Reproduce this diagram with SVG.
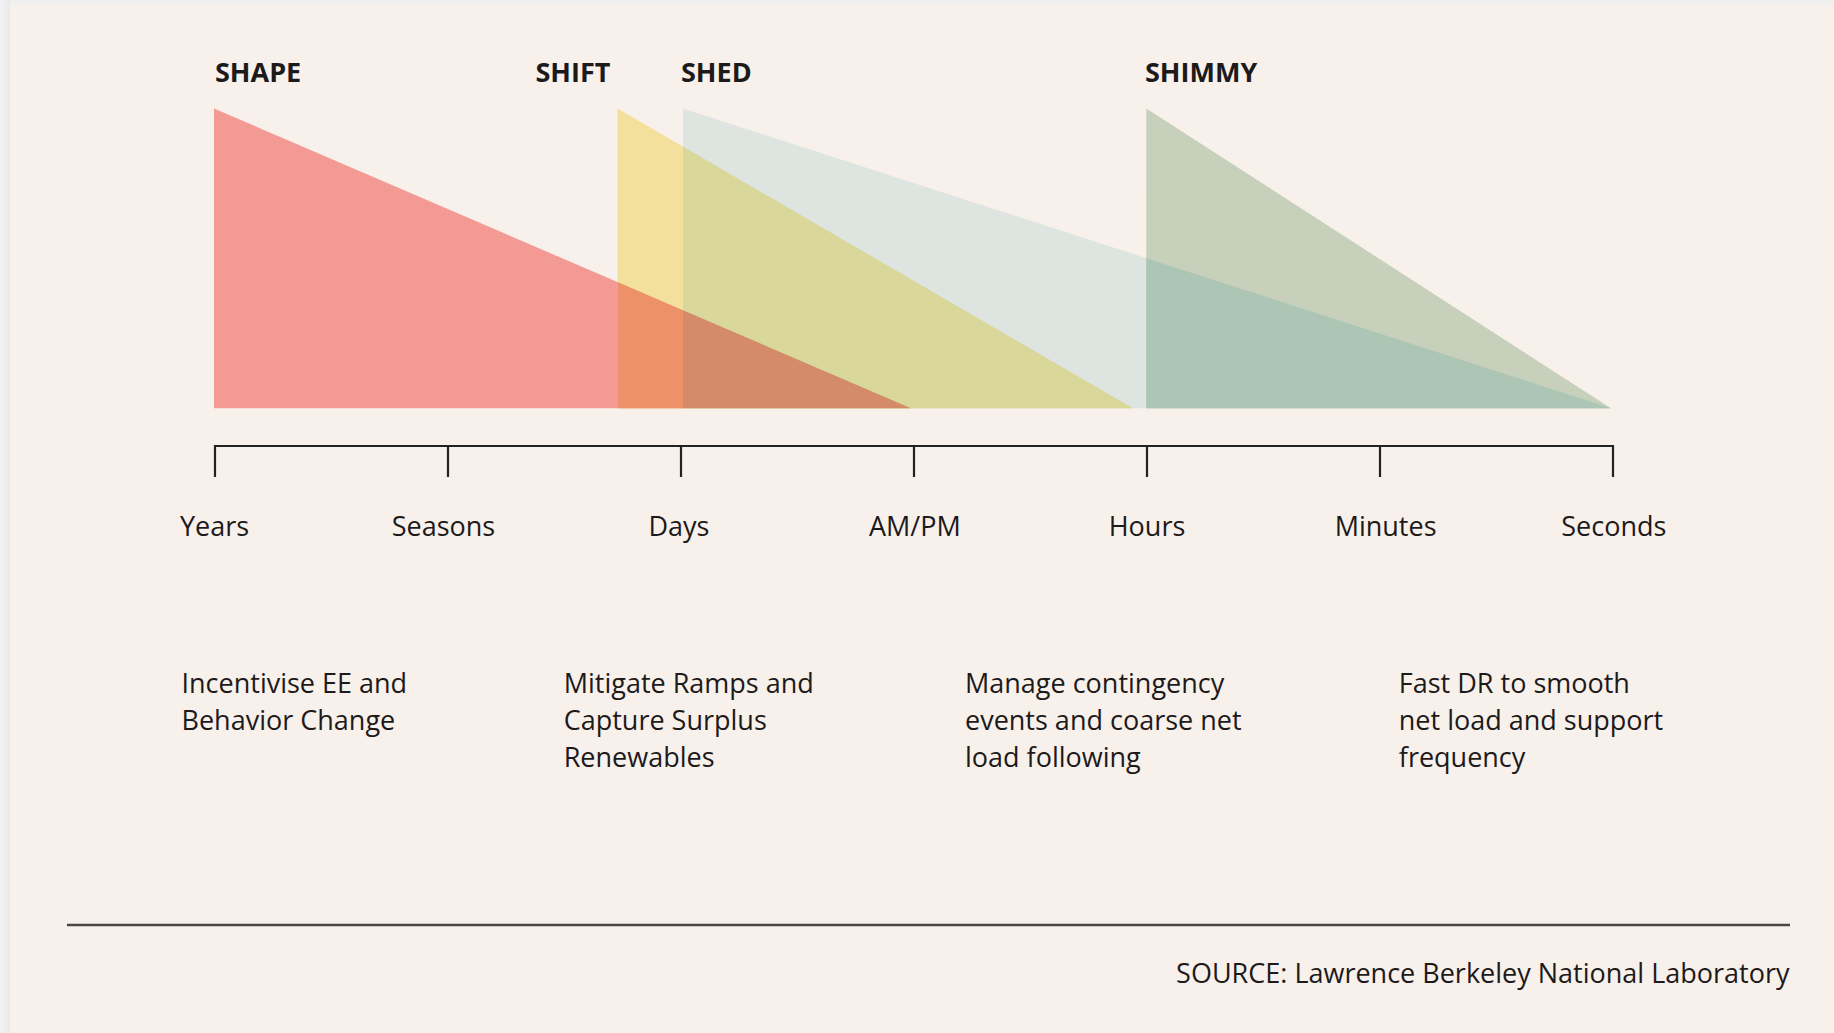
<svg xmlns="http://www.w3.org/2000/svg" width="1834" height="1033" viewBox="0 0 1834 1033">
<defs>
<style>
text{font-family:"Open Sans","Liberation Sans",sans-serif;fill:#1c1a1a;font-weight:500}
.title{font-size:27px;font-weight:700}
.tick{font-size:27px;text-anchor:middle}
.desc{font-size:27px}
.src{font-size:27px;text-anchor:end}
.axis{stroke:#222;stroke-width:2.2;fill:none}
</style>
<linearGradient id="shL" x1="0" y1="0" x2="1" y2="0">
<stop offset="0" stop-color="#f2f2f2"/><stop offset="1" stop-color="#e9e9e9"/>
</linearGradient>
</defs>
<rect x="0" y="0" width="1834" height="1033" fill="#efefee"/>
<rect x="0" y="0" width="10" height="1033" fill="url(#shL)"/>
<rect x="10" y="5" width="1824" height="1028" fill="#f8f0eb"/>

<g id="shape">
<polygon points="214,108.5 214,408.3 911,408.3" fill="#f29a93"/>
<text class="title" x="215" y="81.7">SHAPE</text>
</g>
<g id="shift">
<polygon points="617.5,108.5 617.5,408.3 1133,408.3" fill="#f3e09c"/>
<text class="title" x="535.5" y="81.7">SHIFT</text>
</g>
<g id="shed">
<polygon points="683,108.5 683,408.3 1611,408.3" fill="#dee4e0"/>
<text class="title" x="681" y="81.7">SHED</text>
</g>
<g id="shimmy">
<polygon points="1146.3,108.5 1146.3,408.3 1611,408.3" fill="#c6d0bb"/>
<text class="title" x="1145" y="81.7">SHIMMY</text>
</g>
<g id="overlaps">
<polygon points="683,146.6 683,408.3 1133,408.3" fill="#d9d79a"/>
<polygon points="617.5,282.1 617.5,408.3 683,408.3 683,310.2" fill="#ec9169"/>
<polygon points="683,310.2 683,408.3 911,408.3" fill="#d48b6a"/>
<polygon points="1146.3,258.2 1146.3,408.3 1611,408.3" fill="#acc5b5"/>
</g>

<g id="connectors">
<path class="axis" d="M215,446 H1613 M215,445 V477 M448,446 V477 M681,446 V477 M914,446 V477 M1147,446 V477 M1380,446 V477 M1613,445 V477"/>
<line x1="67" y1="925" x2="1790" y2="925" stroke="#4a4646" stroke-width="2.5"/>
</g>

<g id="timescale">
<text class="tick" x="214.5" y="536">Years</text>
<text class="tick" x="443.5" y="536">Seasons</text>
<text class="tick" x="679" y="536">Days</text>
<text class="tick" x="914.8" y="536">AM/PM</text>
<text class="tick" x="1147" y="536">Hours</text>
<text class="tick" x="1385.6" y="536">Minutes</text>
<text class="tick" x="1613.8" y="536">Seconds</text>
</g>

<g id="desc-shape">
<text class="desc" x="181.5" y="692.7">Incentivise EE and</text>
<text class="desc" x="181.5" y="730">Behavior Change</text>
</g>
<g id="desc-shift">
<text class="desc" x="563.7" y="692.7">Mitigate Ramps and</text>
<text class="desc" x="563.7" y="730">Capture Surplus</text>
<text class="desc" x="563.7" y="767.3">Renewables</text>
</g>
<g id="desc-shed">
<text class="desc" x="965" y="692.7">Manage contingency</text>
<text class="desc" x="965" y="730">events and coarse net</text>
<text class="desc" x="965" y="767.3">load following</text>
</g>
<g id="desc-shimmy">
<text class="desc" x="1398.8" y="692.7">Fast DR to smooth</text>
<text class="desc" x="1398.8" y="730">net load and support</text>
<text class="desc" x="1398.8" y="767.3">frequency</text>
</g>

<g id="source">
<text class="src" x="1789.5" y="983">SOURCE: Lawrence Berkeley National Laboratory</text>
</g>
</svg>
